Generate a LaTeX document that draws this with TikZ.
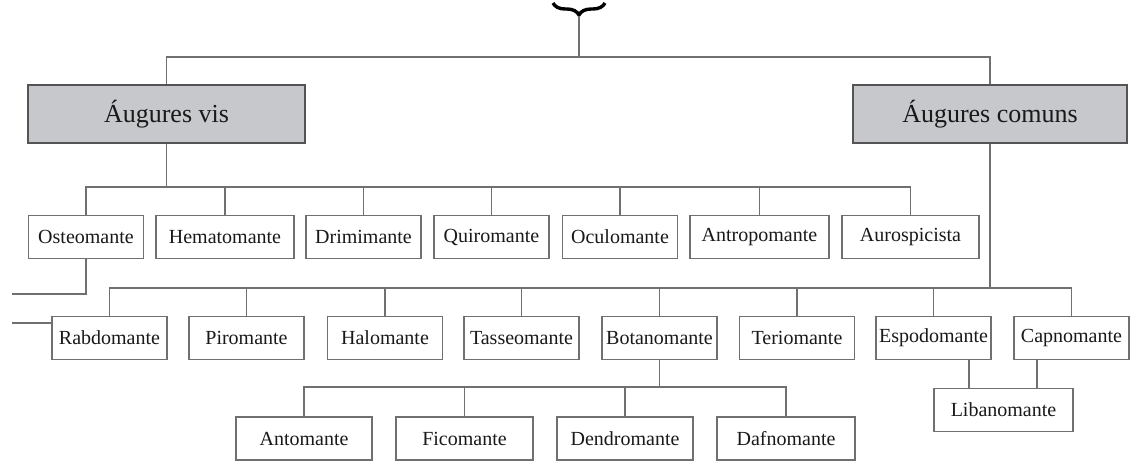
\documentclass[tikz,border=0pt]{standalone}
\usepackage{fontspec}
\setmainfont{Liberation Serif}
\usetikzlibrary{decorations.pathreplacing}
\definecolor{boxgray}{RGB}{198,200,204}
\definecolor{linegray}{RGB}{112,112,112}
\tikzset{
  link/.style={draw=linegray,line width=0.9pt},
  grp/.style={draw=linegray!75!black,line width=1pt,fill=boxgray,text=black!90,
    minimum width=#1,minimum height=29pt,inner sep=0pt,font=\fontsize{13}{15}\selectfont},
  leaf/.style={draw=linegray,line width=0.9pt,fill=white,text=black!90,
    minimum width=#1,minimum height=21.5pt,inner sep=0pt,font=\fontsize{10}{12}\selectfont},
  leaf/.default=57.5pt
}
\begin{document}
\begin{tikzpicture}[x=0.5pt,y=-0.5pt]
\useasboundingbox (0,0) rectangle (1130,461);
\coordinate (brL) at (553,3);
\coordinate (brR) at (605,3);
\coordinate (brc) at (579,16);
\coordinate (b0) at (0,57);
\coordinate (b1) at (0,187);
\coordinate (b2) at (0,288);
\coordinate (b3) at (0,387);
\coordinate (offA) at (12,294);
\coordinate (offB) at (12,323);
% groups
\node[grp=138.5pt] (vis) at (166.5,114) {Áugures vis};
\node[grp=137pt] (com) at (990,114) {Áugures comuns};
% first row
\node[leaf] (osteo) at (86,237) {Osteomante};
\node[leaf=69pt] (hema) at (225,237) {Hematomante};
\node[leaf] (drimi) at (363.5,237) {Drimimante};
\node[leaf] (quiro) at (491.5,237) {Quiromante};
\node[leaf] (oculo) at (620,237) {Oculomante};
\node[leaf=69.5pt] (antro) at (759.5,237) {Antropomante};
\node[leaf=68.5pt] (auro) at (910.5,237) {Aurospicista};
% second row
\node[leaf] (rabdo) at (109.5,338) {Rabdomante};
\node[leaf] (piro) at (246.5,338) {Piromante};
\node[leaf] (halo) at (385,338) {Halomante};
\node[leaf] (tasseo) at (521.5,338) {Tasseomante};
\node[leaf] (botano) at (659.5,338) {Botanomante};
\node[leaf] (terio) at (797,338) {Teriomante};
\node[leaf] (espodo) at (933.5,338) {Espodomante};
\node[leaf] (capno) at (1071.5,338) {Capnomante};
% third row
\node[leaf=68pt] (anto) at (304,438.5) {Antomante};
\node[leaf=68.5pt] (fico) at (464.5,438.5) {Ficomante};
\node[leaf=68pt] (dendro) at (625,438.5) {Dendromante};
\node[leaf=69pt] (dafno) at (786,438.5) {Dafnomante};
\node[leaf=69.5pt] (liban) at (1003.5,410) {Libanomante};
% brace and links
\draw[decorate,decoration={brace,mirror,amplitude=6pt},line width=1.7pt] (brL) -- (brR);
\draw[link] (brc) -- (brc |- b0);
\draw[link] (vis.north) |- (com.north |- b0) -- (com.north);
\draw[link] (vis.south) -- (vis.south |- b1);
\draw[link] (osteo.north) |- (auro.north |- b1) -- (auro.north);
\foreach \n in {hema,drimi,quiro,oculo,antro}
  \draw[link] (\n.north) -- (\n.north |- b1);
\draw[link] (com.south) -- (com.south |- b2);
\draw[link] (rabdo.north) |- (capno.north |- b2) -- (capno.north);
\foreach \n in {piro,halo,tasseo,botano,terio,espodo}
  \draw[link] (\n.north) -- (\n.north |- b2);
\draw[link] (botano.south) -- (botano.south |- b3);
\draw[link] (anto.north) |- (dafno.north |- b3) -- (dafno.north);
\foreach \n in {fico,dendro}
  \draw[link] (\n.north) -- (\n.north |- b3);
\draw[link] ([xshift=17.75pt]espodo.south) -- ([xshift=17.75pt]espodo.south |- liban.north);
\draw[link] ([xshift=-17.25pt]capno.south) -- ([xshift=-17.25pt]capno.south |- liban.north);
\draw[link] (osteo.south) |- (offA);
\draw[link] (offB) -- (rabdo.west |- offB);
\end{tikzpicture}
\end{document}
